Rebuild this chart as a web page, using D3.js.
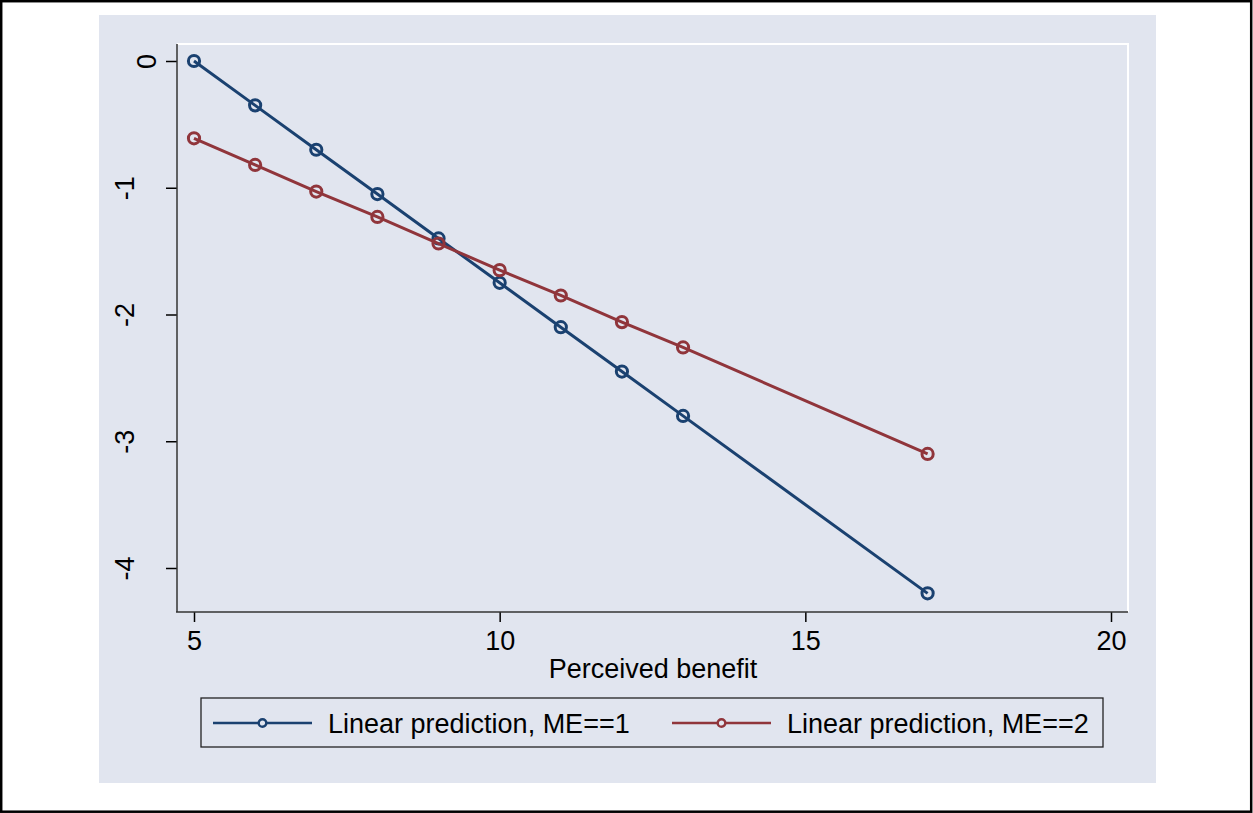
<!DOCTYPE html>
<html>
<head>
<meta charset="utf-8">
<script src="https://cdn.jsdelivr.net/npm/d3@7"></script>
<style>
  body { margin: 0; background: #fff; }
  text { font-family: "Liberation Sans", Arial, sans-serif; fill: #000; }
</style>
</head>
<body>
<div id="chart"></div>
<script>
const benefit = [5, 6, 7, 8, 9, 10, 11, 12, 13, 17];
const predME1 = [0.0, -0.35, -0.70, -1.05, -1.40, -1.75, -2.10, -2.45, -2.80, -4.20];
const predME2 = [-0.61, -0.82, -1.03, -1.23, -1.44, -1.65, -1.85, -2.06, -2.26, -3.10];
const xTicks = [5, 10, 15, 20];
const yTicks = [0, -1, -2, -3, -4];
const seriesNames = ["Linear prediction, ME==1", "Linear prediction, ME==2"];
const seriesColors = ["#1a4170", "#90353b"];

const W = 1253, H = 813;
const bg = "#e1e5ef";
const fs = 27;
const plot = {left: 177, right: 1128, top: 44, bottom: 612};

const svg = d3.select("#chart").append("svg")
  .attr("width", W).attr("height", H);

// outer frame + graph region
svg.append("rect").attr("x", 1.2).attr("y", 1.2).attr("width", 1250).attr("height", 810.5)
  .attr("fill", "#fff").attr("stroke", "#000").attr("stroke-width", 2.5);
svg.append("rect").attr("x", 99).attr("y", 15).attr("width", 1057).attr("height", 768)
  .attr("fill", bg);

let x = d3.scaleLinear().domain([5, 20]).range([194, 1111]);
let y = d3.scaleLinear().domain([0, -4]).range([61, 568]);

// plot region outline (white top / right)
svg.append("path")
  .attr("d", `M${plot.left},${plot.top}H${plot.right}V${plot.bottom}`)
  .attr("fill", "none").attr("stroke", "#fff").attr("stroke-width", 2);

// x axis
let xAxis = svg.append("g")
  .attr("transform", "translate(0," + plot.bottom + ")")
  .call(d3.axisBottom(x).tickValues(xTicks).tickSize(10).tickPadding(9));
xAxis.select(".domain").remove();
xAxis.selectAll("line").attr("stroke", "#000").attr("stroke-width", 1.5);
xAxis.selectAll("text").attr("font-size", fs).attr("fill", "#000")
  .style("font-family", "Liberation Sans, Arial, sans-serif");
svg.append("line").attr("x1", plot.left - 1).attr("x2", plot.right)
  .attr("y1", plot.bottom).attr("y2", plot.bottom)
  .attr("stroke", "#333").attr("stroke-width", 1.5);

// y axis
let yAxis = svg.append("g")
  .attr("transform", "translate(" + plot.left + ",0)")
  .call(d3.axisLeft(y).tickValues(yTicks).tickSize(11).tickFormat(d => d3.format("d")(d).replace("−", "-")));
yAxis.select(".domain").remove();
yAxis.selectAll("line").attr("stroke", "#000").attr("stroke-width", 1.5);
yAxis.selectAll("text")
  .attr("font-size", fs).attr("fill", "#000")
  .style("font-family", "Liberation Sans, Arial, sans-serif")
  .attr("text-anchor", "middle").attr("dy", null).attr("x", null)
  // Stata puts the single-digit "0" closer to the axis than the negative labels
  .attr("transform", d => "translate(" + (d === 0 ? -21 : -43) + ",0) rotate(-90)");
svg.append("line").attr("x1", plot.left).attr("x2", plot.left)
  .attr("y1", plot.top).attr("y2", plot.bottom)
  .attr("stroke", "#333").attr("stroke-width", 1.5);

// x title
svg.append("text").attr("x", (plot.left + plot.right) / 2 + 0.5).attr("y", 678)
  .attr("text-anchor", "middle").attr("font-size", fs).text("Perceived benefit");

// series
const allSeries = [predME1, predME2];
const line = d3.line().x(d => x(d[0])).y(d => y(d[1]));
allSeries.forEach((vals, i) => {
  const pts = benefit.map((b, j) => [b, vals[j]]);
  svg.append("path").datum(pts)
    .attr("d", line)
    .attr("fill", "none").attr("stroke", seriesColors[i]).attr("stroke-width", 3);
  svg.selectAll(".pt" + i).data(pts).enter().append("circle")
    .attr("class", "pt" + i)
    .attr("cx", d => x(d[0])).attr("cy", d => y(d[1]))
    .attr("r", 5.6).attr("fill", "none")
    .attr("stroke", seriesColors[i]).attr("stroke-width", 3);
});

// legend
svg.append("rect").attr("x", 201).attr("y", 698).attr("width", 902).attr("height", 49)
  .attr("fill", bg).attr("stroke", "#222").attr("stroke-width", 1.3);
const legendX = [213, 672];
seriesNames.forEach((name, i) => {
  const g = svg.append("g").attr("transform", "translate(" + legendX[i] + ",723)");
  g.append("line").attr("x1", 0).attr("x2", 99).attr("y1", 0).attr("y2", 0)
    .attr("stroke", seriesColors[i]).attr("stroke-width", 2.6);
  g.append("circle").attr("cx", 49.5).attr("cy", 0).attr("r", 3.8)
    .attr("fill", bg).attr("stroke", seriesColors[i]).attr("stroke-width", 2.4);
  g.append("text").attr("x", 115).attr("y", 9.5).attr("font-size", fs).text(name);
});
</script>
</body>
</html>
